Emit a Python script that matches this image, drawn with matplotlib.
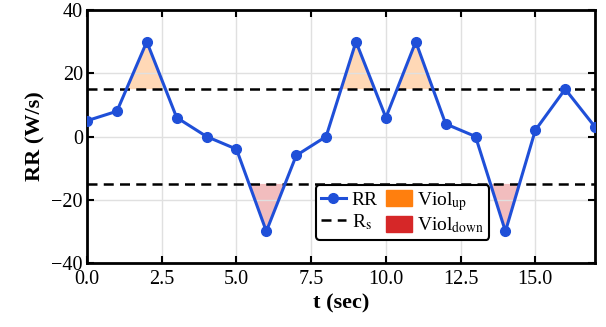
import numpy as np
import matplotlib
matplotlib.use("Agg")
import matplotlib.pyplot as plt
from matplotlib.patches import Patch
from matplotlib.lines import Line2D

t = np.arange(18)
rr = np.array([5, 8, 30, 6, 0, -4, -30, -6, 0, 30, 6, 30, 4, 0, -30, 2, 15, 3])
rs = 15

plt.rcParams['font.family'] = ['Liberation Serif', 'DejaVu Serif']
plt.rcParams['mathtext.fontset'] = 'stix'

fig, ax = plt.subplots(figsize=(6.06, 3.27), dpi=100)
fig.subplots_adjust(left=0.1436, right=0.982, top=0.969, bottom=0.196)

ax.grid(True, color='#e0e0e0', linewidth=1, zorder=0)
ax.fill_between(t, rr, rs, where=rr > rs, interpolate=True,
                color='#ff7f0e', alpha=0.3, linewidth=0, zorder=1)
ax.fill_between(t, rr, -rs, where=rr < -rs, interpolate=True,
                color='#d62728', alpha=0.3, linewidth=0, zorder=1)
ax.axhline(rs, color='black', linestyle='--', linewidth=1.8, dashes=(4, 2.5), zorder=2)
ax.axhline(-rs, color='black', linestyle='--', linewidth=1.8, dashes=(4, 2.5), zorder=2)
ax.plot(t, rr, color='#1f4fd8', marker='o', markersize=7, linewidth=2.2, zorder=3)

ax.set_xlim(0, 17)
ax.set_ylim(-40, 40)
ax.set_xticks(np.arange(0, 17, 2.5))
ax.set_xticklabels([f'{v:.1f}' for v in np.arange(0, 17, 2.5)])
ax.set_yticks([-40, -20, 0, 20, 40])
ax.tick_params(direction='in', length=5, width=1.5, labelsize=14.5, top=True, right=True, pad=3)
ax.tick_params(axis='x', pad=5)
for s in ax.spines.values():
    s.set_linewidth(2)
ax.set_xlabel('t (sec)', fontsize=16, fontweight='bold', labelpad=3)
ax.set_ylabel('RR (W/s)', fontsize=16, fontweight='bold', labelpad=4)

handles = [
    Line2D([], [], color='#1f4fd8', marker='o', markersize=7, linewidth=2.2),
    Line2D([], [], color='black', linestyle='--', linewidth=1.8, dashes=(4, 2.5)),
    Patch(facecolor='#ff7f0e', edgecolor='#ff7f0e'),
    Patch(facecolor='#d62728', edgecolor='#d62728'),
]
labels = ['RR', r'R$_\mathrm{s}$', r'Viol$_\mathrm{up}$', r'Viol$_\mathrm{down}$']
leg = ax.legend(handles, labels, ncol=2, loc='lower center', bbox_to_anchor=(0.621, 0.09),
                fontsize=14, frameon=True, edgecolor='black', fancybox=True,
                handlelength=1.3, handleheight=0.9, columnspacing=0.45, handletextpad=0.3,
                borderpad=0.25, labelspacing=0.15, borderaxespad=0, framealpha=1)
leg.get_frame().set_linewidth(1.5)

fig.savefig('out.png', dpi=100)
